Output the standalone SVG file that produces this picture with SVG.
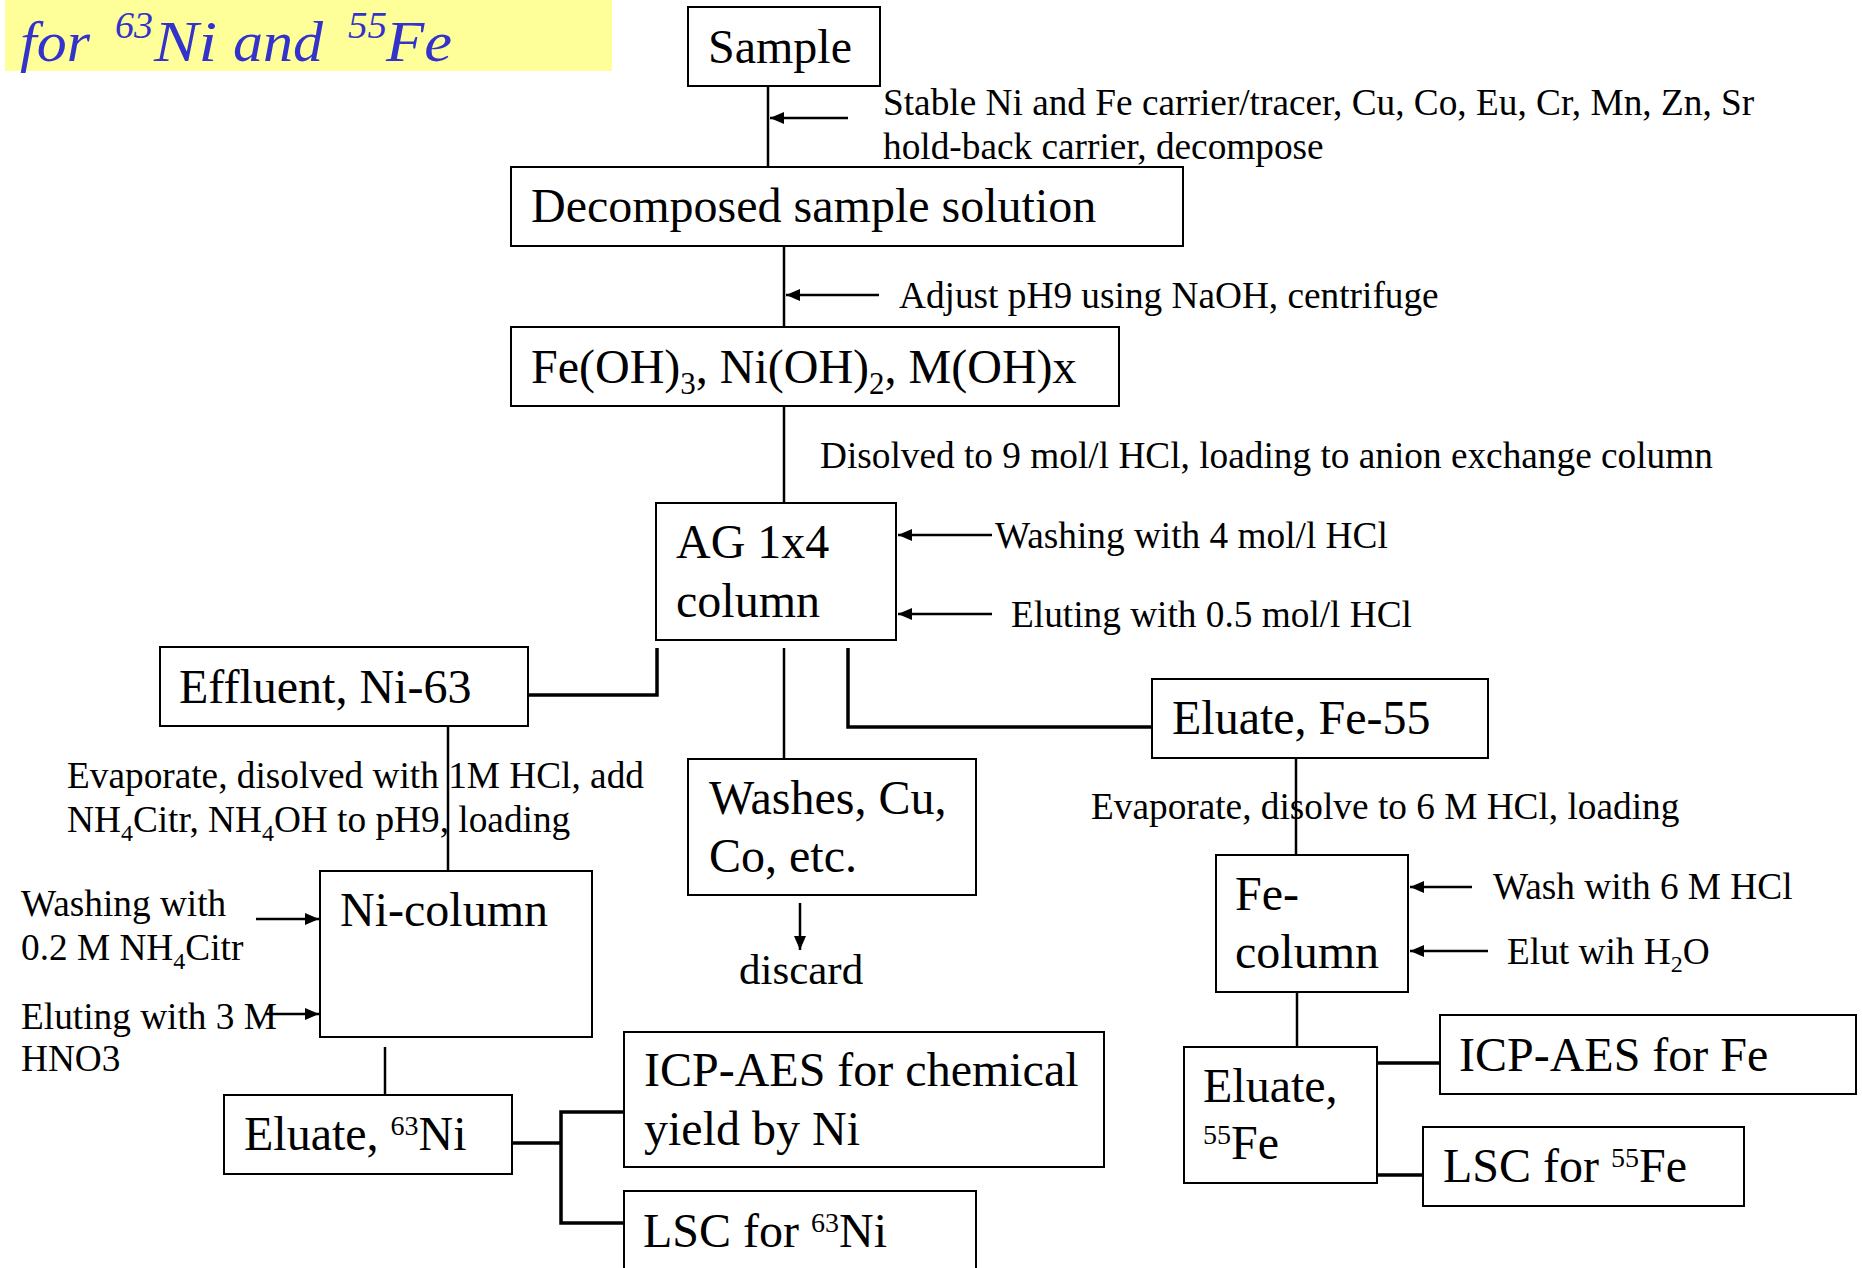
<svg xmlns="http://www.w3.org/2000/svg" width="1862" height="1268" viewBox="0 0 1862 1268">
<style>
text{font-family:"Liberation Serif","Times New Roman",serif;fill:#000}
.main{font-size:48px}
.lbl{font-size:37.3px}
.sup{font-size:28px}
.sub{font-size:31px}
.lsub{font-size:24px}
.box{fill:#fff;stroke:#000;stroke-width:2}
.ln{stroke:#000;stroke-width:2.5;fill:none}
.thick{stroke:#000;stroke-width:3.5;fill:none}
.title{font-style:italic;font-size:57px;fill:#3333CC}
.tsup{font-style:italic;font-size:37px;fill:#3333CC}
</style>
<defs>
<marker id="ah" markerUnits="userSpaceOnUse" markerWidth="14" markerHeight="12" refX="14" refY="6" orient="auto">
<path d="M0,0 L14,6 L0,12 z" fill="#000"/>
</marker>
</defs>
<rect width="1862" height="1268" fill="#fff"/>
<g id="title">
<rect x="5" y="0" width="607" height="71" fill="#FFFF99"/>
<text class="title" x="20" y="61" textLength="70" lengthAdjust="spacingAndGlyphs">for</text>
<text class="tsup" x="115" y="38" textLength="38" lengthAdjust="spacingAndGlyphs">63</text>
<text class="title" x="154" y="61" textLength="63" lengthAdjust="spacingAndGlyphs">Ni</text>
<text class="title" x="233" y="61" textLength="90" lengthAdjust="spacingAndGlyphs">and</text>
<text class="tsup" x="348" y="38" textLength="39" lengthAdjust="spacingAndGlyphs">55</text>
<text class="title" x="386" y="61" textLength="66" lengthAdjust="spacingAndGlyphs">Fe</text>
</g>
<g id="connectors">
<line class="ln" x1="768" y1="86" x2="768" y2="167"/>
<line class="ln" x1="848" y1="118" x2="770" y2="118" marker-end="url(#ah)"/>
<line class="ln" x1="784" y1="246" x2="784" y2="327"/>
<line class="ln" x1="879" y1="295" x2="786" y2="295" marker-end="url(#ah)"/>
<line class="ln" x1="784" y1="406" x2="784" y2="503"/>
<line class="ln" x1="992" y1="535" x2="898" y2="535" marker-end="url(#ah)"/>
<line class="ln" x1="992" y1="614" x2="898" y2="614" marker-end="url(#ah)"/>
<polyline class="thick" points="657,648 657,695 528,695"/>
<line class="ln" x1="784" y1="648" x2="784" y2="759"/>
<polyline class="thick" points="848,648 848,727 1152,727"/>
<line class="ln" x1="448" y1="726" x2="448" y2="871"/>
<line class="ln" x1="800" y1="903" x2="800" y2="950" marker-end="url(#ah)"/>
<line class="ln" x1="256" y1="919" x2="319" y2="919" marker-end="url(#ah)"/>
<line class="ln" x1="266" y1="1014" x2="319" y2="1014" marker-end="url(#ah)"/>
<line class="ln" x1="385" y1="1047" x2="385" y2="1095"/>
<polyline class="thick" points="512,1143 561,1143"/>
<polyline class="thick" points="624,1112 561,1112 561,1223 624,1223"/>
<line class="ln" x1="1296" y1="758" x2="1296" y2="855"/>
<line class="ln" x1="1472" y1="887" x2="1410" y2="887" marker-end="url(#ah)"/>
<line class="ln" x1="1488" y1="951" x2="1410" y2="951" marker-end="url(#ah)"/>
<line class="ln" x1="1297" y1="983" x2="1297" y2="1047"/>
<line class="thick" x1="1377" y1="1063" x2="1440" y2="1063"/>
<line class="thick" x1="1377" y1="1175" x2="1423" y2="1175"/>
</g>
<g id="labels">
<text class="lbl" x="883" y="115">Stable Ni and Fe carrier/tracer, Cu, Co, Eu, Cr, Mn, Zn, Sr</text>
<text class="lbl" x="883" y="159">hold-back carrier, decompose</text>
<text class="lbl" x="899" y="308">Adjust pH9 using NaOH, centrifuge</text>
<text class="lbl" x="820" y="468">Disolved to 9 mol/l HCl, loading to anion exchange column</text>
<text class="lbl" x="995" y="548">Washing with 4 mol/l HCl</text>
<text class="lbl" x="1011" y="627">Eluting with 0.5 mol/l HCl</text>
<text class="lbl" x="67" y="788">Evaporate, disolved with 1M HCl, add</text>
<text class="lbl" x="67" y="832">NH<tspan class="lsub" dy="9">4</tspan><tspan dy="-9">Citr, NH</tspan><tspan class="lsub" dy="9">4</tspan><tspan dy="-9">OH to pH9, loading</tspan></text>
<text class="lbl" x="1091" y="819">Evaporate, disolve to 6 M HCl, loading</text>
<text class="lbl" x="1493" y="899">Wash with 6 M HCl</text>
<text class="lbl" x="1507" y="964">Elut wih H<tspan class="lsub" dy="8">2</tspan><tspan dy="-8">O</tspan></text>
<text class="lbl" x="21" y="916">Washing with</text>
<text class="lbl" x="21" y="960">0.2 M NH<tspan class="lsub" dy="9">4</tspan><tspan dy="-9">Citr</tspan></text>
<text class="lbl" x="21" y="1029">Eluting with 3 M</text>
<text class="lbl" x="21" y="1071">HNO3</text>
<text class="lbl" x="739" y="984" style="font-size:43px">discard</text>
</g>
<g id="sample">
<rect class="box" x="688" y="7" width="192" height="79"/>
<text class="main" x="708" y="63">Sample</text>
</g>
<g id="decomposed">
<rect class="box" x="511" y="167" width="672" height="79"/>
<text class="main" x="531" y="222">Decomposed sample solution</text>
</g>
<g id="hydroxides">
<rect class="box" x="511" y="327" width="608" height="79"/>
<text class="main" x="531" y="383">Fe(OH)<tspan class="sub" dy="11">3</tspan><tspan dy="-11">, Ni(OH)</tspan><tspan class="sub" dy="11">2</tspan><tspan dy="-11">, M(OH)x</tspan></text>
</g>
<g id="ag-column">
<rect class="box" x="656" y="503" width="240" height="137"/>
<text class="main" x="676" y="558">AG 1x4</text>
<text class="main" x="676" y="617">column</text>
</g>
<g id="effluent">
<rect class="box" x="160" y="647" width="368" height="79"/>
<text class="main" x="179" y="703">Effluent, Ni-63</text>
</g>
<g id="washes">
<rect class="box" x="688" y="759" width="288" height="136"/>
<text class="main" x="709" y="814">Washes, Cu,</text>
<text class="main" x="709" y="872">Co, etc.</text>
</g>
<g id="eluate-fe55">
<rect class="box" x="1152" y="679" width="336" height="79"/>
<text class="main" x="1172" y="734">Eluate, Fe-55</text>
</g>
<g id="ni-column">
<rect class="box" x="320" y="871" width="272" height="166"/>
<text class="main" x="340" y="926">Ni-column</text>
</g>
<g id="fe-column">
<rect class="box" x="1216" y="855" width="192" height="137"/>
<text class="main" x="1235" y="910">Fe-</text>
<text class="main" x="1235" y="968">column</text>
</g>
<g id="eluate-ni63">
<rect class="box" x="224" y="1095" width="288" height="79"/>
<text class="main" x="244" y="1150">Eluate, <tspan class="sup" dy="-15">63</tspan><tspan dy="15">Ni</tspan></text>
</g>
<g id="icp-ni">
<rect class="box" x="624" y="1032" width="480" height="135"/>
<text class="main" x="644" y="1086">ICP-AES for chemical</text>
<text class="main" x="644" y="1145">yield by Ni</text>
</g>
<g id="lsc-ni">
<rect class="box" x="624" y="1191" width="352" height="90"/>
<text class="main" x="643" y="1247">LSC for <tspan class="sup" dy="-15">63</tspan><tspan dy="15">Ni</tspan></text>
</g>
<g id="eluate-fe55b">
<rect class="box" x="1184" y="1047" width="193" height="136"/>
<text class="main" x="1203" y="1102">Eluate,</text>
<text class="main" x="1203" y="1159"><tspan class="sup" dy="-15">55</tspan><tspan dy="15">Fe</tspan></text>
</g>
<g id="icp-fe">
<rect class="box" x="1440" y="1015" width="416" height="79"/>
<text class="main" x="1459" y="1071">ICP-AES for Fe</text>
</g>
<g id="lsc-fe">
<rect class="box" x="1423" y="1127" width="321" height="79"/>
<text class="main" x="1443" y="1182">LSC for <tspan class="sup" dy="-15">55</tspan><tspan dy="15">Fe</tspan></text>
</g>
</svg>
